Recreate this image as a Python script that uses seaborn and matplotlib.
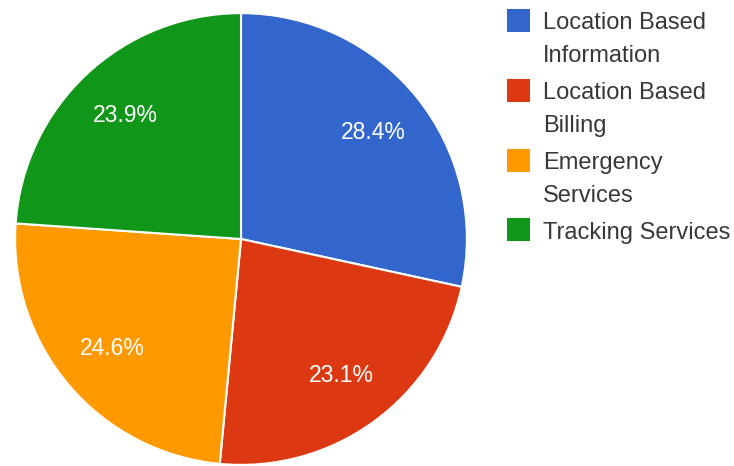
import matplotlib
matplotlib.use("Agg")
import matplotlib.pyplot as plt
import seaborn as sns
from matplotlib.patches import Rectangle

categories = ["Location Based Information", "Location Based Billing",
              "Emergency Services", "Tracking Services"]
legend_lines = [["Location Based", "Information"], ["Location Based", "Billing"],
                ["Emergency", "Services"], ["Tracking Services"]]
values = [28.4, 23.1, 24.6, 23.9]
colors = ["#3366CC", "#DC3912", "#FF9900", "#109618"]

sns.set_theme(style="white")
plt.rcParams['font.family'] = ['Liberation Sans', 'DejaVu Sans']

W, H = 734, 466
fig = plt.figure(figsize=(W / 100, H / 100), dpi=100)
fig.patch.set_facecolor("white")

cx, cy, r = 241, 239, 227
ax = fig.add_axes([(cx - r) / W, (H - cy - r) / H, 2 * r / W, 2 * r / H])
wedges, texts, autotexts = ax.pie(
    values, colors=colors, startangle=90, counterclock=False,
    autopct="%.1f%%", pctdistance=0.75,
    wedgeprops=dict(edgecolor="white", linewidth=1.5),
    textprops=dict(color="white", fontsize=16.5))
ax.set_xlim(-1.005, 1.005)
ax.set_ylim(-1.005, 1.005)
ax.set_aspect("equal")
ax.axis("off")

# legend
sq_tops = [9, 79, 149, 218]
base1 = [29, 99, 169, 239]
for i, (lines, col) in enumerate(zip(legend_lines, colors)):
    sq = Rectangle((507 / W, 1 - (sq_tops[i] + 23) / H), 23 / W, 23 / H,
                   transform=fig.transFigure, facecolor=col, edgecolor="none")
    fig.patches.append(sq)
    for j, line in enumerate(lines):
        fig.text(543 / W, 1 - (base1[i] + 33 * j) / H, line, fontsize=17,
                 color="#383838", va="baseline", ha="left")

fig.savefig("out.png", dpi=100, facecolor="white")
